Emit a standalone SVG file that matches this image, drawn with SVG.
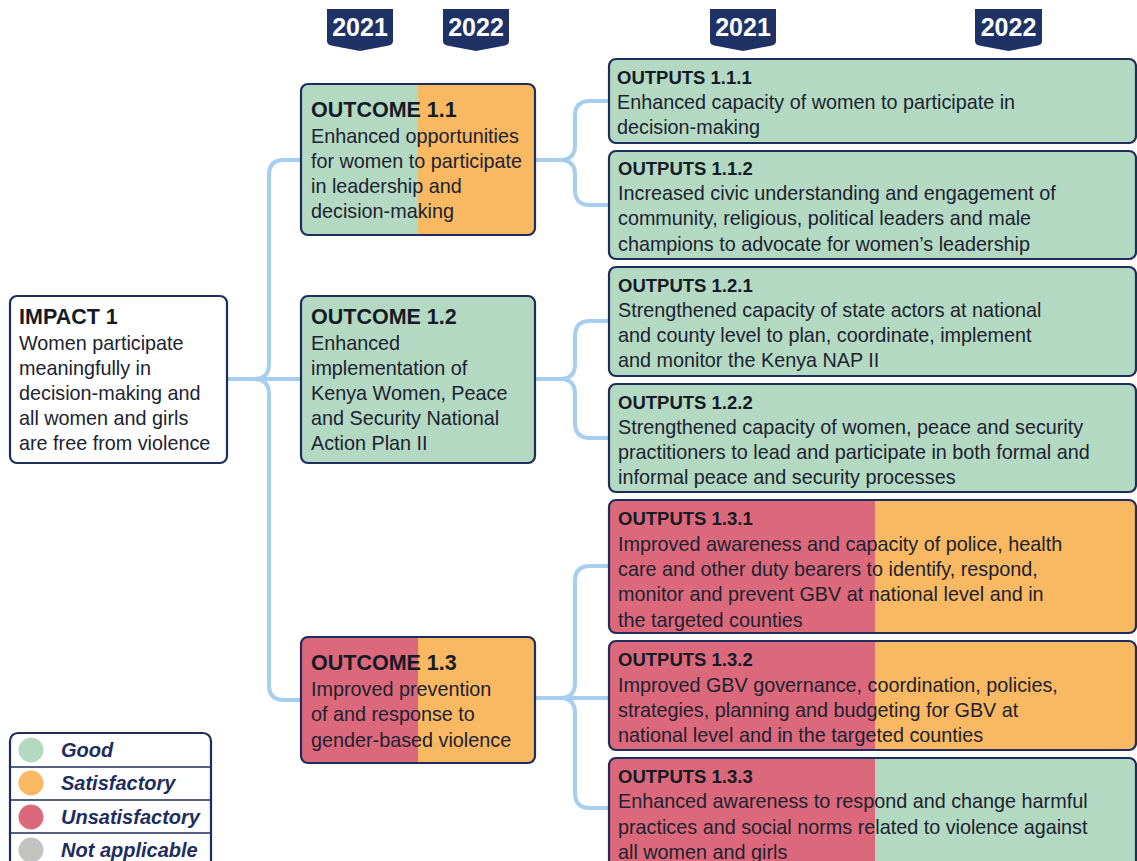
<svg xmlns="http://www.w3.org/2000/svg" width="1137" height="861" viewBox="0 0 1137 861">
  <defs>
    <style>
      .box { fill: none; stroke: #1F2D5C; stroke-width: 2.2; }
      .good { fill: #B3D9C2; }
      .sat { fill: #F9B862; }
      .uns { fill: #DC687C; }
      .na { fill: #C4C3BF; }
      .ttl { font-family: "Liberation Sans", Arial, sans-serif; font-weight: bold; fill: #151B26; }
      .h1 { font-size: 21.5px; }
      .h2 { font-size: 18.5px; }
      .txt { font-family: "Liberation Sans", Arial, sans-serif; font-size: 19.8px; fill: #1C2230; }
      .year { font-family: "Liberation Sans", Arial, sans-serif; font-weight: bold; font-size: 25px; fill: #FFFFFF; text-anchor: middle; }
      .badge { fill: #1E3266; }
      .link { fill: none; stroke: #A6CEEE; stroke-width: 4; stroke-linecap: butt; }
      .leg { font-family: "Liberation Sans", Arial, sans-serif; font-weight: bold; font-style: italic; font-size: 20px; fill: #1E2D5E; }
      .legline { stroke: #1F2D5C; stroke-width: 1.6; }
    </style>
  </defs>

  <rect width="1137" height="861" fill="#FFFFFF"/>

  <!-- year badges -->
  <g id="years">
    <path class="badge" d="M327,9 H393 V41 Q393,44.5 389,45.5 L360,51 L331,45.5 Q327,44.5 327,41 Z"/>
    <text class="year" x="360" y="36">2021</text>
    <path class="badge" d="M443,9 H509 V41 Q509,44.5 505,45.5 L476,51 L447,45.5 Q443,44.5 443,41 Z"/>
    <text class="year" x="476" y="36">2022</text>
    <path class="badge" d="M710,9 H776 V41 Q776,44.5 772,45.5 L743,51 L714,45.5 Q710,44.5 710,41 Z"/>
    <text class="year" x="743" y="36">2021</text>
    <path class="badge" d="M975,9 H1042 V41 Q1042,44.5 1038,45.5 L1008.5,51 L979,45.5 Q975,44.5 975,41 Z"/>
    <text class="year" x="1008.5" y="36">2022</text>
  </g>

  <!-- connectors -->
  <g id="connectors">
    <path class="link" d="M227,379 H301"/>
    <path class="link" d="M254,379 Q269,379 269,364 V175 Q269,160 284,160 H301"/>
    <path class="link" d="M254,379 Q269,379 269,394 V685 Q269,700 284,700 H301"/>

    <path class="link" d="M535,160 H560 Q575,160 575,145 V116 Q575,101 590,101 H609"/>
    <path class="link" d="M560,160 Q575,160 575,175 V190 Q575,205 590,205 H609"/>

    <path class="link" d="M535,379 H560 Q575,379 575,364 V336 Q575,321 590,321 H609"/>
    <path class="link" d="M560,379 Q575,379 575,394 V423 Q575,438 590,438 H609"/>

    <path class="link" d="M535,698 H609"/>
    <path class="link" d="M560,698 Q575,698 575,683 V581 Q575,566 590,566 H609"/>
    <path class="link" d="M560,698 Q575,698 575,713 V793 Q575,808 590,808 H609"/>
  </g>

  <!-- impact -->
  <g id="impact-1">
    <rect x="10" y="296" width="217" height="167" rx="7" fill="#FFFFFF"/>
    <rect class="box" x="10" y="296" width="217" height="167" rx="7"/>
    <text class="ttl h1" x="19" y="324">IMPACT 1</text>
    <text class="txt" x="19" y="350">Women participate</text>
    <text class="txt" x="19" y="375">meaningfully in</text>
    <text class="txt" x="19" y="400">decision-making and</text>
    <text class="txt" x="19" y="425">all women and girls</text>
    <text class="txt" x="19" y="450">are free from violence</text>
  </g>

  <!-- outcomes -->
  <g id="outcome-1-1">
    <rect class="sat" x="301" y="84" width="234" height="151" rx="7"/>
    <path class="good" d="M308,84 H418 V235 H308 Q301,235 301,228 V91 Q301,84 308,84 Z"/>
    <rect class="box" x="301" y="84" width="234" height="151" rx="7"/>
    <text class="ttl h1" x="311" y="117">OUTCOME 1.1</text>
    <text class="txt" x="311" y="143">Enhanced opportunities</text>
    <text class="txt" x="311" y="168">for women to participate</text>
    <text class="txt" x="311" y="193">in leadership and</text>
    <text class="txt" x="311" y="218">decision-making</text>
  </g>

  <g id="outcome-1-2">
    <rect class="good" x="301" y="296" width="234" height="167" rx="7"/>
    <rect class="box" x="301" y="296" width="234" height="167" rx="7"/>
    <text class="ttl h1" x="311" y="324">OUTCOME 1.2</text>
    <text class="txt" x="311" y="350">Enhanced</text>
    <text class="txt" x="311" y="375">implementation of</text>
    <text class="txt" x="311" y="400">Kenya Women, Peace</text>
    <text class="txt" x="311" y="425">and Security National</text>
    <text class="txt" x="311" y="450">Action Plan II</text>
  </g>

  <g id="outcome-1-3">
    <rect class="sat" x="301" y="637" width="234" height="126" rx="7"/>
    <path class="uns" d="M308,637 H418 V763 H308 Q301,763 301,756 V644 Q301,637 308,637 Z"/>
    <rect class="box" x="301" y="637" width="234" height="126" rx="7"/>
    <text class="ttl h1" x="311" y="670">OUTCOME 1.3</text>
    <text class="txt" x="311" y="696">Improved prevention</text>
    <text class="txt" x="311" y="721">of and response to</text>
    <text class="txt" x="311" y="746.5">gender-based violence</text>
  </g>

  <!-- outputs -->
  <g id="output-1-1-1">
    <rect class="good" x="609" y="59" width="527" height="84" rx="7"/>
    <rect class="box" x="609" y="59" width="527" height="84" rx="7"/>
    <text class="ttl h2" x="617" y="84">OUTPUTS 1.1.1</text>
    <text class="txt" x="617" y="109">Enhanced capacity of women to participate in</text>
    <text class="txt" x="617" y="134">decision-making</text>
  </g>

  <g id="output-1-1-2">
    <rect class="good" x="609" y="151" width="527" height="108" rx="7"/>
    <rect class="box" x="609" y="151" width="527" height="108" rx="7"/>
    <text class="ttl h2" x="618" y="175">OUTPUTS 1.1.2</text>
    <text class="txt" x="618" y="200">Increased civic understanding and engagement of</text>
    <text class="txt" x="618" y="225">community, religious, political leaders and male</text>
    <text class="txt" x="618" y="251">champions to advocate for women’s leadership</text>
  </g>

  <g id="output-1-2-1">
    <rect class="good" x="609" y="267" width="527" height="109" rx="7"/>
    <rect class="box" x="609" y="267" width="527" height="109" rx="7"/>
    <text class="ttl h2" x="618" y="292">OUTPUTS 1.2.1</text>
    <text class="txt" x="618" y="317">Strengthened capacity of state actors at national</text>
    <text class="txt" x="618" y="342">and county level to plan, coordinate, implement</text>
    <text class="txt" x="618" y="367">and monitor the Kenya NAP II</text>
  </g>

  <g id="output-1-2-2">
    <rect class="good" x="609" y="384" width="527" height="108" rx="7"/>
    <rect class="box" x="609" y="384" width="527" height="108" rx="7"/>
    <text class="ttl h2" x="618" y="409">OUTPUTS 1.2.2</text>
    <text class="txt" x="618" y="434">Strengthened capacity of women, peace and security</text>
    <text class="txt" x="618" y="459">practitioners to lead and participate in both formal and</text>
    <text class="txt" x="618" y="484">informal peace and security processes</text>
  </g>

  <g id="output-1-3-1">
    <rect class="sat" x="609" y="500" width="527" height="133" rx="7"/>
    <path class="uns" d="M616,500 H875 V633 H616 Q609,633 609,626 V507 Q609,500 616,500 Z"/>
    <rect class="box" x="609" y="500" width="527" height="133" rx="7"/>
    <text class="ttl h2" x="618" y="525">OUTPUTS 1.3.1</text>
    <text class="txt" x="618" y="551">Improved awareness and capacity of police, health</text>
    <text class="txt" x="618" y="576">care and other duty bearers to identify, respond,</text>
    <text class="txt" x="618" y="601">monitor and prevent GBV at national level and in</text>
    <text class="txt" x="618" y="627">the targeted counties</text>
  </g>

  <g id="output-1-3-2">
    <rect class="sat" x="609" y="641" width="527" height="109" rx="7"/>
    <path class="uns" d="M616,641 H875 V750 H616 Q609,750 609,743 V648 Q609,641 616,641 Z"/>
    <rect class="box" x="609" y="641" width="527" height="109" rx="7"/>
    <text class="ttl h2" x="618" y="666">OUTPUTS 1.3.2</text>
    <text class="txt" x="618" y="692">Improved GBV governance, coordination, policies,</text>
    <text class="txt" x="618" y="717">strategies, planning and budgeting for GBV at</text>
    <text class="txt" x="618" y="742">national level and in the targeted counties</text>
  </g>

  <g id="output-1-3-3">
    <rect class="good" x="609" y="758" width="527" height="120" rx="7"/>
    <path class="uns" d="M616,758 H875 V878 H616 Q609,878 609,871 V765 Q609,758 616,758 Z"/>
    <rect class="box" x="609" y="758" width="527" height="120" rx="7"/>
    <text class="ttl h2" x="618" y="783">OUTPUTS 1.3.3</text>
    <text class="txt" x="618" y="808">Enhanced awareness to respond and change harmful</text>
    <text class="txt" x="618" y="834">practices and social norms related to violence against</text>
    <text class="txt" x="618" y="859">all women and girls</text>
  </g>

  <!-- rating key -->
  <g id="legend">
    <rect x="10" y="733" width="201" height="140" rx="8" fill="#FFFFFF"/>
    <line class="legline" x1="10" y1="767" x2="211" y2="767"/>
    <line class="legline" x1="10" y1="800" x2="211" y2="800"/>
    <line class="legline" x1="10" y1="833" x2="211" y2="833"/>
    <rect class="box" x="10" y="733" width="201" height="140" rx="8" stroke-width="2.6"/>
    <circle class="good" cx="31" cy="750" r="12.5"/>
    <circle class="sat" cx="31" cy="783" r="12.5"/>
    <circle class="uns" cx="31" cy="817" r="12.5"/>
    <circle class="na" cx="31" cy="850" r="12.5"/>
    <text class="leg" x="61" y="757">Good</text>
    <text class="leg" x="61" y="790">Satisfactory</text>
    <text class="leg" x="61" y="824">Unsatisfactory</text>
    <text class="leg" x="61" y="857">Not applicable</text>
  </g>
</svg>
